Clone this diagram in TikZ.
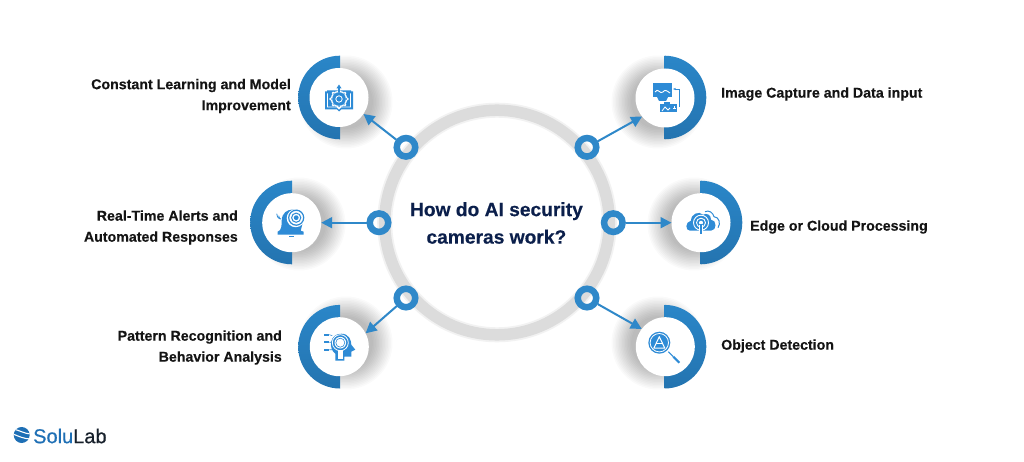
\documentclass[tikz,border=0pt]{standalone}
\usepackage{fontspec}
\setmainfont[BoldFeatures={FakeBold=0.3}]{Liberation Sans}
\newfontfamily\logofont[FakeBold=0.5]{Liberation Sans}
\usetikzlibrary{arrows.meta}
\definecolor{ringblue}{HTML}{2A86C8}
\definecolor{ringdark}{HTML}{2474B0}
\definecolor{iconblue}{HTML}{2E8BD6}
\definecolor{hubblue}{HTML}{2F88C9}
\definecolor{navy}{HTML}{0B1F4B}
\definecolor{biggray}{HTML}{DCDCDC}
\definecolor{lab}{HTML}{17202B}
\definecolor{solu}{HTML}{1E6FB5}
\tikzset{
  cam/.style={circle,fill=white,minimum size=59pt,inner sep=0pt,outer sep=0pt},
  hubdot/.style={circle,draw=hubblue,line width=6.5pt,fill=none,minimum size=18.5pt,inner sep=0pt,outer sep=3pt},
  label/.style={font=\fontsize{14.2}{21}\selectfont\bfseries,text=black!92,inner sep=0pt},
  link/.style={draw=hubblue,line width=2pt,-{Triangle[length=11pt,width=11pt]}},
  ico/.style={draw=iconblue,line width=1pt,fill=none,line join=round},
}
\newcommand{\softshadow}[3]{% x y radius
  \foreach \r in {0,1.5,...,19.5}{\fill[black,opacity=.02] (#1,#2) circle[radius=#3+\r];}}
\newcommand{\halfring}[3]{% x y side
  \shade[top color=ringblue,bottom color=ringdark] (#1,#2-41.8) arc[start angle=-90,delta angle=#3*180,radius=41.8] -- cycle;}
\begin{document}
\begin{tikzpicture}[x=1pt,y=-1pt]
\useasboundingbox (0,0) rectangle (1024,462);
\fill[white] (0,0) rectangle (1024,462);
% ring
\draw[black!5,line width=15pt] (497,222.5) circle[radius=112.3];
\draw[biggray,line width=11.5pt] (497,222.5) circle[radius=112.3];
% shadows
\softshadow{346}{102}{27}\softshadow{658}{102}{27}
\softshadow{299}{224}{27}\softshadow{694}{224}{27}
\softshadow{346}{343}{27}\softshadow{658}{343}{27}
% half rings
\halfring{340}{97.5}{-1}\halfring{664.5}{97.5}{1}
\halfring{292}{222.5}{-1}\halfring{700.5}{222.5}{1}
\halfring{340}{346.7}{-1}\halfring{664.5}{346.7}{1}
% nodes
\node[cam] (cam1) at (339,97.5) {};
\node[cam] (cam2) at (665,98) {};
\node[cam] (cam3) at (291.7,222.7) {};
\node[cam] (cam4) at (701,222.7) {};
\node[cam] (cam5) at (339.3,346.7) {};
\node[cam] (cam6) at (665.3,346.7) {};
\node[hubdot] (hub1) at (406,147.3) {};
\node[hubdot] (hub2) at (587,147.3) {};
\node[hubdot] (hub3) at (379,222.7) {};
\node[hubdot] (hub4) at (613.3,222.7) {};
\node[hubdot] (hub5) at (406,298) {};
\node[hubdot] (hub6) at (587,298) {};
\draw[link] (hub1) -- (cam1.-34);
\draw[link] (hub2) -- (cam2.219);
\draw[link] (hub3) -- (cam3.0);
\draw[link] (hub4) -- (cam4.180);
\draw[link] (hub5) -- (cam5.27);
\draw[link] (hub6) -- (cam6.143);
% title
\node[font=\fontsize{19.2}{27.5}\selectfont\bfseries,text=navy,align=center,inner sep=0pt] (title) at (496.4,223) {How do AI security\\cameras work?};
% labels
\node[label,align=right,anchor=east] (l1) at (291,96) {Constant Learning and Model\\Improvement};
\node[label,anchor=west] (l2) at (721,94) {Image Capture and Data input};
\node[label,align=right,anchor=east] (l3) at (238,227.5) {Real-Time Alerts and\\Automated Responses};
\node[label,anchor=west] (l4) at (750,227) {Edge or Cloud Processing};
\node[label,align=right,anchor=east] (l5) at (282,347.5) {Pattern Recognition and\\Behavior Analysis};
\node[label,anchor=west] (l6) at (721,346) {Object Detection};
% icon 1: book, gear, arrow
\begin{scope}[shift={(cam1.center)}]
 \fill[iconblue] (-14,-6) -- (-12,-6) -- (-12,-7) -- (12,-7) -- (12,-6) -- (14,-6) -- (14,12) -- (2,12) -- (0,14) -- (-2,12) -- (-14,12) -- cycle;
 \draw[white,line width=.8pt] (-11.5,-4) -- (-11.5,9.5) -- (-2,9.5) -- (0,11.5) -- (2,9.5) -- (11.5,9.5) -- (11.5,-4);
 \fill[white] (0,1.5) circle[radius=8.2];
 \foreach \a in {0,45,...,315}{\fill[white] (0,1.5) ++(\a:8.4) circle[radius=1.5];}
 \fill[iconblue] (0,1.5) circle[radius=6.8];
 \foreach \a in {0,45,...,315}{\fill[iconblue] (0,1.5) ++(\a:7.2) circle[radius=.8];}
 \draw[white,line width=.8pt] (0,1.5) circle[radius=3.2];
 \draw[iconblue,line width=1.2pt,-{Triangle[length=4pt,width=5pt]}] (0,-5) -- (0,-13);
\end{scope}
% icon 2: monitor, camera, arrow
\begin{scope}[shift={(cam2.center)}]
 \fill[iconblue] (-12,-15) rectangle (7,-1);
 \draw[white,line width=.9pt] (-10,-6) .. controls (-7,-11) and (-5,-3) .. (-2,-6) .. controls (0,-9) and (2,-7) .. (5,-5);
 \fill[iconblue] (-8,-1) -- (3,-1) -- (1,3) -- (-6,3) -- cycle;
 \fill[iconblue] (-5,6) rectangle (12,14);
 \fill[iconblue] (-1,4) rectangle (5,6);
 \draw[white,line width=.8pt] (-3,13) -- (0,9) -- (3,12) -- (5,10);
 \draw[white,line width=.8pt] (8,10) -- (11,10) (9.5,8.5) -- (9.5,11.5);
 \draw[iconblue,line width=.9pt,-{Stealth[length=3pt]}] (14,9) -- (14,-9) -- (8,-9);
\end{scope}
% icon 3: bell camera
\begin{scope}[shift={(cam3.center)}]
 \fill[iconblue] (-14,9) .. controls (-10,8) and (-10,2) .. (-10,-2) .. controls (-10,-10) and (-4,-13) .. (0,-13) -- (6,-13) .. controls (10,-12) and (12,-8) .. (12,-4) -- (9,8) -- (12,9) -- (12,12) -- (-14,12) -- cycle;
 \fill[white] (4,-4.5) circle[radius=9];
 \draw[iconblue,line width=1.2pt,fill=white] (4.5,-5) circle[radius=7.5];
 \draw[ico] (4.5,-5) circle[radius=4.6];
 \fill[iconblue] (4.5,-5) circle[radius=2.4];
 \fill[iconblue] (-3,13.2) rectangle (2,14.6);
 \draw[iconblue,line width=.8pt] (-15,-9) arc[start angle=180,delta angle=-60,radius=6];
 \draw[iconblue,line width=.8pt] (-13,-7) arc[start angle=180,delta angle=-60,radius=4];
\end{scope}
% icon 4: cloud
\begin{scope}[shift={(cam4.center)}]
 \fill[iconblue] (-11,8) .. controls (-16,8) and (-16,-1) .. (-10,-2) .. controls (-10,-9) and (-2,-12) .. (2,-8) .. controls (6,-10) and (10,-8) .. (10,-3) .. controls (16,-3) and (16,8) .. (10,8) -- cycle;
 \draw[iconblue,line width=1pt] (4,-11) .. controls (8,-13) and (12,-10) .. (13,-6) .. controls (18,-6) and (20,1) .. (17,5);
 \draw[white,line width=.9pt] (0,0) circle[radius=4.5];
 \draw[white,line width=.9pt] (0,0) circle[radius=7.5];
 \fill[white] (0,0) circle[radius=2];
 \draw[white,line width=3.6pt] (0,2) -- (0,10);
 \draw[iconblue,line width=1.7pt] (0,1) -- (0,11);
\end{scope}
% icon 5: head with magnifier
\begin{scope}[shift={(cam5.center)}]
 \fill[iconblue] (-4,14) -- (-4,7) .. controls (-11,2) and (-10,-13) .. (2,-13) .. controls (10,-13) and (12,-6) .. (12,-2) -- (16,3) -- (12,5) -- (12,10) -- (5,10) -- (5,14) -- cycle;
 \draw[white,fill=iconblue,line width=.8pt] (1,-4) circle[radius=8];
 \fill[white] (1,-4) circle[radius=5.8];
 \draw[iconblue,line width=.6pt] (1,-4) circle[radius=4.5];
 \draw[white,fill=iconblue,line width=.8pt] (-.8,4) rectangle (2.8,12);
 \draw[white,line width=.6pt,fill=white] (-.2,5) rectangle (2.2,11);
 \foreach \y in {-13,-5.5,2}{
  \fill[iconblue] (-15,\y) rectangle ++(5,2);}
 \draw[iconblue,line width=.6pt] (-10,-12) -- (-7,-11) (-10,-4.5) -- (-8,-4.5) (-10,3) -- (-7,3);
\end{scope}
% icon 6: magnifier with warning triangle
\begin{scope}[shift={(cam6.center)}]
 \fill[iconblue] (-6,-4) circle[radius=11];
 \draw[white,line width=.8pt] (-6,-4) circle[radius=9.2];
 \draw[white,line width=1pt,line join=round] (-6,-10) -- (-11.5,1.5) -- (-.5,1.5) -- cycle;
 \draw[white,line width=1pt] (-9.5,-3) -- (-2.5,-3);
 \draw[iconblue,line width=1pt] (3,5) -- (8,10);
 \draw[iconblue,line width=2pt] (8,10) -- (14,16);
\end{scope}
% logo
\fill[solu] (21.7,435) circle[radius=8];
\begin{scope}
 \clip (21.7,435) circle[radius=8];
 \draw[white,line width=1.1pt] (13,429) .. controls (19,430) and (25,434) .. (31,434) (13,434) .. controls (18,436) and (24,439) .. (31,439);
\end{scope}
\node[font=\logofont\fontsize{20}{22}\selectfont,anchor=west,inner sep=0pt,text=lab] (logo) at (33,436) {\textcolor{solu}{Solu}Lab};
\end{tikzpicture}
\end{document}
